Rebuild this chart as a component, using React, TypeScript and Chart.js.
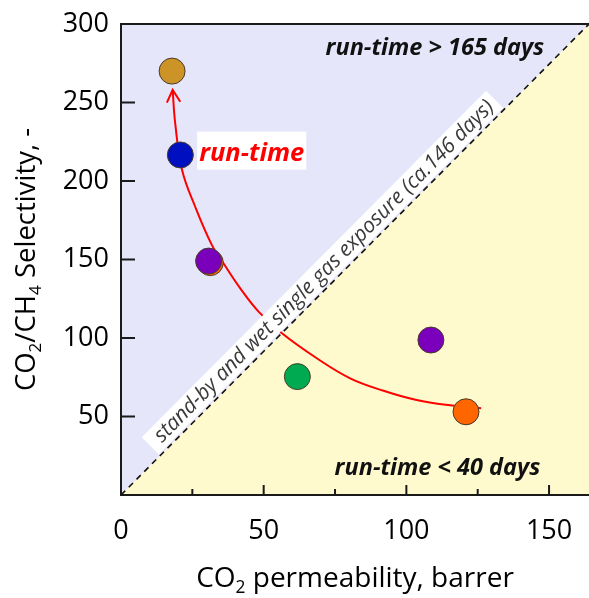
import React, { useEffect, useRef } from 'react';
import { Chart, registerables } from 'chart.js';

Chart.register(...registerables);

// ---- axis ranges & ticks ----
const X_MIN = 0;
const X_MAX = 164;
const Y_MIN = 0;
const Y_MAX = 300;
const xTickValues = [0, 50, 100, 150];
const xMinorTickValues = [25, 75, 125];
const yTickValues = [50, 100, 150, 200, 250, 300];

// ---- data points (CO2 permeability, CO2/CH4 selectivity) ----
const pointX = [17.9, 20.8, 31.3, 30.7, 61.8, 108.6, 120.9];
const pointY = [270, 216.6, 148, 149, 75.4, 98.7, 53];
const pointColors = ['#CC9326', '#0010C0', '#FF6600', '#7B00BB', '#00AA50', '#7B00BB', '#FF6600'];

// ---- red "run-time" trend curve ----
const curveX = [126.2, 115.3, 103.6, 92, 80.3, 68.6, 56.4, 48.2, 41.8, 35.9, 31.9, 26, 21.4, 19, 18.1];
const curveY = [55.2, 57.1, 60.5, 66.4, 74.3, 87.1, 103, 116.8, 131.6, 147.6, 159, 183.6, 207, 236.7, 258];

// ---- diagonal separating line ----
const diagX = [0, 164];
const diagY = [0, 300];

// ---- annotation texts ----
const topLabel = 'run-time > 165 days';
const topLabelPos = [110, 280];
const bottomLabel = 'run-time < 40 days';
const bottomLabelPos = [110.9, 12.7];
const runLabel = 'run-time';
const runLabelPos = [27.4, 213];
const diagLabel = 'stand-by and wet single gas exposure (ca.146 days)';
const diagLabelPos = [71.2, 142.4];

const FONT = '"Open Sans", Lato, sans-serif';
const LAVENDER = '#E6E6FA';
const YELLOW = '#FFFACD';
const AXIS = '#1a1a1a';

type Part = { t: string; sub?: boolean };

function drawRich(ctx: CanvasRenderingContext2D, parts: Part[], size: number, x: number, y: number) {
  const subSize = size * 0.62;
  let total = 0;
  for (const p of parts) {
    ctx.font = `${p.sub ? subSize : size}px ${FONT}`;
    total += ctx.measureText(p.t).width;
  }
  let cx = x - total / 2;
  ctx.textAlign = 'left';
  ctx.textBaseline = 'alphabetic';
  for (const p of parts) {
    ctx.font = `${p.sub ? subSize : size}px ${FONT}`;
    ctx.fillText(p.t, cx, p.sub ? y + size * 0.2 : y);
    cx += ctx.measureText(p.t).width;
  }
}

const overlayPlugin = {
  id: 'overlay',
  afterDatasetsDraw(chart: any) {
    const ctx: CanvasRenderingContext2D = chart.ctx;
    const xs = chart.scales.x;
    const ys = chart.scales.y;
    const area = chart.chartArea;
    ctx.save();

    // arrow head at end of curve
    const n = curveX.length;
    const tipX = xs.getPixelForValue(curveX[n - 1]);
    const tipY = ys.getPixelForValue(curveY[n - 1]);
    const prevX = xs.getPixelForValue(curveX[n - 2]);
    const prevY = ys.getPixelForValue(curveY[n - 2]);
    const ang = Math.atan2(tipY - prevY, tipX - prevX);
    const len = 14;
    const spread = 0.5;
    ctx.strokeStyle = '#FF0000';
    ctx.lineWidth = 2;
    ctx.beginPath();
    ctx.moveTo(tipX - len * Math.cos(ang - spread), tipY - len * Math.sin(ang - spread));
    ctx.lineTo(tipX, tipY);
    ctx.lineTo(tipX - len * Math.cos(ang + spread), tipY - len * Math.sin(ang + spread));
    ctx.stroke();

    // diagonal label with white box
    const dx0 = xs.getPixelForValue(diagX[0]);
    const dy0 = ys.getPixelForValue(diagY[0]);
    const dx1 = xs.getPixelForValue(diagX[1]);
    const dy1 = ys.getPixelForValue(diagY[1]);
    const rot = Math.atan2(dy1 - dy0, dx1 - dx0);
    ctx.save();
    ctx.translate(xs.getPixelForValue(diagLabelPos[0]), ys.getPixelForValue(diagLabelPos[1]));
    ctx.rotate(rot);
    ctx.font = `italic 21px ${FONT}`;
    const dw = ctx.measureText(diagLabel).width;
    ctx.fillStyle = '#FFFFFF';
    ctx.fillRect(-dw / 2 - 10, -12.5, dw + 16, 24);
    ctx.fillStyle = '#3a3a3a';
    ctx.textAlign = 'center';
    ctx.textBaseline = 'middle';
    ctx.fillText(diagLabel, 0, 0);
    ctx.restore();

    // run-time label with white box
    ctx.font = `bold italic 25.5px ${FONT}`;
    const rx = xs.getPixelForValue(runLabelPos[0]);
    const ry = ys.getPixelForValue(runLabelPos[1]);
    const rw = ctx.measureText(runLabel).width;
    ctx.fillStyle = '#FFFFFF';
    ctx.fillRect(rx - 2, ry - 29, rw + 4, 38);
    ctx.fillStyle = '#FF0000';
    ctx.textAlign = 'left';
    ctx.textBaseline = 'alphabetic';
    ctx.fillText(runLabel, rx, ry);

    // corner labels
    ctx.font = `bold italic 23.5px ${FONT}`;
    ctx.fillStyle = '#111111';
    ctx.textAlign = 'center';
    ctx.fillText(topLabel, xs.getPixelForValue(topLabelPos[0]), ys.getPixelForValue(topLabelPos[1]));
    ctx.fillText(bottomLabel, xs.getPixelForValue(bottomLabelPos[0]), ys.getPixelForValue(bottomLabelPos[1]));

    // axes frame
    ctx.strokeStyle = AXIS;
    ctx.lineWidth = 2;
    ctx.beginPath();
    ctx.moveTo(area.right + 2, area.top);
    ctx.lineTo(area.left, area.top);
    ctx.lineTo(area.left, area.bottom);
    ctx.lineTo(area.right + 2, area.bottom);
    ctx.stroke();

    // tick marks (inside)
    ctx.beginPath();
    for (const v of yTickValues) {
      const py = ys.getPixelForValue(v);
      ctx.moveTo(area.left, py);
      ctx.lineTo(area.left + 14, py);
    }
    for (const v of xTickValues) {
      const px = xs.getPixelForValue(v);
      ctx.moveTo(px, area.bottom);
      ctx.lineTo(px, area.bottom - 10);
    }
    for (const v of xMinorTickValues) {
      const px = xs.getPixelForValue(v);
      ctx.moveTo(px, area.bottom);
      ctx.lineTo(px, area.bottom - 6);
    }
    ctx.stroke();

    // axis titles
    ctx.fillStyle = '#000000';
    drawRich(ctx, [{ t: 'CO' }, { t: '2', sub: true }, { t: ' permeability, barrer' }], 28, (area.left + area.right) / 2, 587);
    ctx.save();
    ctx.translate(35, (area.top + area.bottom) / 2);
    ctx.rotate(-Math.PI / 2);
    drawRich(ctx, [{ t: 'CO' }, { t: '2', sub: true }, { t: '/CH' }, { t: '4', sub: true }, { t: ' Selectivity, -' }], 27.5, 0, 0);
    ctx.restore();

    ctx.restore();
  },
};

export default function App() {
  const canvasRef = useRef<HTMLCanvasElement | null>(null);

  useEffect(() => {
    document.body.style.margin = '0';
    const canvas = canvasRef.current;
    if (!canvas) return;

    const diagData = diagX.map((x, i) => ({ x, y: diagY[i] }));
    const curveData = curveX.map((x, i) => ({ x, y: curveY[i] }));
    const pointData = pointX.map((x, i) => ({ x, y: pointY[i] }));

    const chart = new Chart(canvas, {
      type: 'scatter',
      data: {
        datasets: [
          {
            label: 'points',
            data: pointData,
            backgroundColor: pointColors,
            borderColor: '#4a3a2a',
            borderWidth: 1,
            pointRadius: 13,
            pointHoverRadius: 13,
            showLine: false,
            order: 1,
          } as any,
          {
            label: 'curve',
            data: curveData,
            showLine: true,
            borderColor: '#FF0000',
            borderWidth: 2,
            pointRadius: 0,
            tension: 0.4,
            fill: false,
            order: 2,
          } as any,
          {
            label: 'diag',
            data: diagData,
            showLine: true,
            borderColor: '#111111',
            borderWidth: 1.6,
            borderDash: [6, 5],
            pointRadius: 0,
            backgroundColor: LAVENDER,
            fill: 'end',
            order: 3,
          } as any,
          {
            label: 'below',
            data: diagData,
            showLine: true,
            borderWidth: 0,
            borderColor: 'rgba(0,0,0,0)',
            pointRadius: 0,
            backgroundColor: YELLOW,
            fill: 'start',
            order: 4,
          } as any,
        ],
      },
      options: {
        responsive: false,
        animation: false,
        events: [],
        layout: { autoPadding: false, padding: { top: 24, right: 0, left: 0, bottom: 0 } },
        plugins: {
          legend: { display: false },
          tooltip: { enabled: false },
          title: { display: false },
        },
        scales: {
          x: {
            type: 'linear',
            min: X_MIN,
            max: X_MAX,
            afterFit: (s: any) => { s.height = 103; s.paddingRight = 0; s.paddingLeft = 0; },
            grid: { display: false, drawTicks: false },
            border: { display: false },
            ticks: {
              stepSize: 50,
              includeBounds: false,
              padding: 20,
              color: '#000',
              font: { family: FONT, size: 27 },
              callback: (v: any) => (xTickValues.includes(Number(v)) ? String(v) : ''),
            },
          },
          y: {
            type: 'linear',
            min: Y_MIN,
            max: Y_MAX,
            afterFit: (s: any) => { s.width = 121; s.paddingTop = 0; s.paddingBottom = 0; },
            grid: { display: false, drawTicks: false },
            border: { display: false },
            ticks: {
              stepSize: 50,
              padding: 12,
              color: '#000',
              font: { family: FONT, size: 27 },
              callback: (v: any) => (yTickValues.includes(Number(v)) ? String(v) : ''),
            },
          },
        },
      } as any,
      plugins: [overlayPlugin],
    });

    return () => chart.destroy();
  }, []);

  return (
    <div style={{ width: 589, height: 598 }}>
      <canvas ref={canvasRef} width={589} height={598} />
    </div>
  );
}
